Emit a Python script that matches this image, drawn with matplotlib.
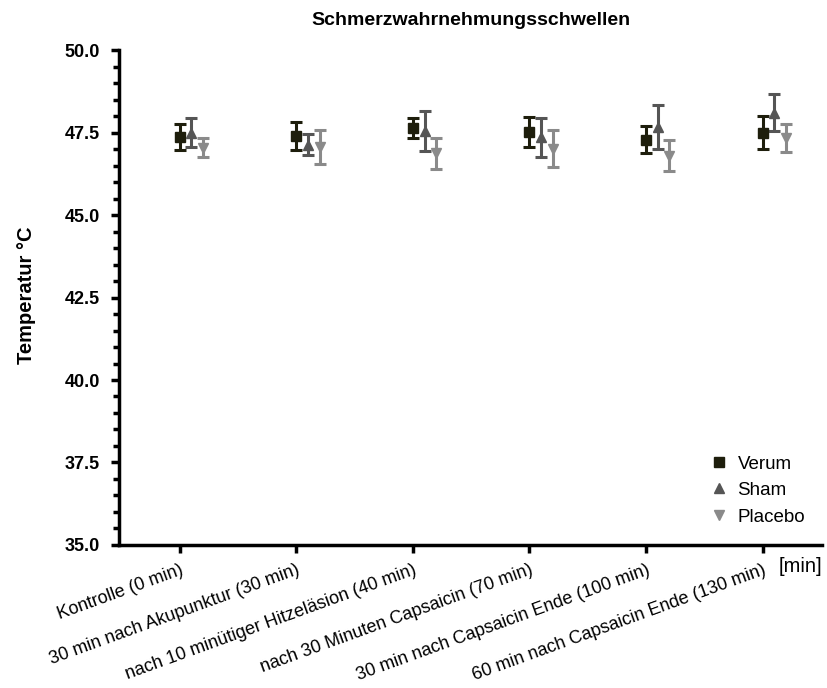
import matplotlib
matplotlib.use("Agg")
from matplotlib import pyplot as plt
from matplotlib.ticker import MultipleLocator
import numpy as np

plt.rcParams['font.family'] = ['Liberation Sans', 'DejaVu Sans']

categories = ["Kontrolle (0 min)",
              "30 min nach Akupunktur (30 min)",
              "nach 10 minütiger Hitzeläsion (40 min)",
              "nach 30 Minuten Capsaicin (70 min)",
              "30 min nach Capsaicin Ende (100 min)",
              "60 min nach Capsaicin Ende (130 min)"]

verum = [47.37, 47.39, 47.63, 47.53, 47.29, 47.50]
verum_err = [0.40, 0.43, 0.30, 0.45, 0.42, 0.50]
sham = [47.50, 47.14, 47.55, 47.36, 47.66, 48.11]
sham_err = [0.43, 0.33, 0.60, 0.59, 0.67, 0.56]
placebo = [47.05, 47.07, 46.87, 47.01, 46.80, 47.33]
placebo_err = [0.30, 0.52, 0.48, 0.56, 0.47, 0.43]

fig = plt.figure(figsize=(8.27, 6.88), dpi=100)
ax = fig.add_axes([0.144, 0.208, 0.85, 0.719])

x = np.arange(len(categories))
series = [
    ("Verum", verum, verum_err, 's', '#1e1e0c', 0.0, 6.5),
    ("Sham", sham, sham_err, '^', '#555555', 0.1, 7.5),
    ("Placebo", placebo, placebo_err, 'v', '#8a8a8a', 0.2, 7.5),
]
for name, vals, errs, mk, col, off, ms in series:
    ax.errorbar(x + off, vals, yerr=errs, fmt='none', ecolor=col,
                elinewidth=2.2, capsize=4.5, capthick=2.2)
    ax.plot(x + off, vals, mk, color=col, markersize=ms, label=name, zorder=3)

ax.set_ylim(35, 50)
ax.set_xlim(-0.52, 5.51)
ax.yaxis.set_minor_locator(MultipleLocator(0.5))
ax.set_yticks(np.arange(35, 50.1, 2.5))
ax.set_yticklabels([f"{v:.1f}" for v in np.arange(35, 50.1, 2.5)],
                   fontweight='bold', fontsize=13)
ax.set_xticks(x)
ax.set_xticklabels(categories, rotation=20, ha='right', rotation_mode='anchor', fontsize=13)

for s in ['top', 'right']:
    ax.spines[s].set_visible(False)
for s in ['left', 'bottom']:
    ax.spines[s].set_linewidth(2.5)
ax.tick_params(axis='both', which='major', width=2.5, length=6)
ax.tick_params(axis='y', which='minor', width=2.5, length=4)
ax.tick_params(axis='x', pad=6)
ax.tick_params(axis='y', pad=8)

fig.text(26 / 827, 0.571, "Temperatur °C", rotation=90, ha='center', va='center',
         fontweight='bold', fontsize=14.5)
ax.set_title("Schmerzwahrnehmungsschwellen", fontweight='bold', fontsize=14, pad=18)
ax.text(1.0, -0.025, "[min]", transform=ax.transAxes, ha='right', va='top', fontsize=14.5)

ax.legend(loc='lower right', frameon=False, fontsize=13.5, handletextpad=0.4,
          handlelength=1.2, labelspacing=0.5, bbox_to_anchor=(1.0, 0.005), numpoints=1)

fig.savefig("out.png")
